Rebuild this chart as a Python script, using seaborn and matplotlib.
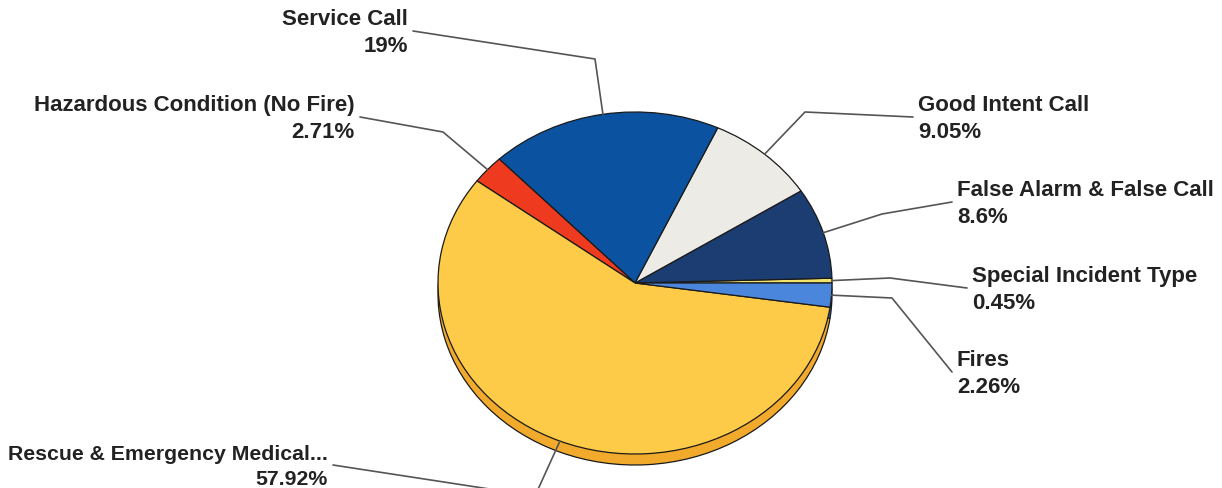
import numpy as np
import matplotlib
matplotlib.use('Agg')
import matplotlib.pyplot as plt
import seaborn as sns

# ----------------------------------------------------------------------------
# Data (counter-clockwise from 3 o'clock)
# ----------------------------------------------------------------------------
categories = ['Special Incident Type', 'False Alarm & False Call', 'Good Intent Call',
              'Service Call', 'Hazardous Condition (No Fire)',
              'Rescue & Emergency Medical...', 'Fires']
shares = [0.45, 8.6, 9.05, 19, 2.71, 57.92, 2.26]
pct_labels = ['0.45%', '8.6%', '9.05%', '19%', '2.71%', '57.92%', '2.26%']

top_colors = ['#f2e36a', '#1b3d72', '#ecebe6', '#0b52a0', '#ee3b1f', '#fecb48', '#4a86dc']
side_colors = ['#c9b840', '#122a55', '#c4c3bc', '#083d78', '#b92a14', '#f2aa2c', '#3466b0']

# ----------------------------------------------------------------------------
# Layout (pixel geometry of the picture)
# ----------------------------------------------------------------------------
W, H = 1222, 489
CX, CY, RX, RY = 635, 284, 197, 171
DEPTH = 11

# elbow point and label anchor for each leader line, in pixels
leader_layout = [
    [(890, 279), (967, 289)],
    [(882, 215), (952, 203)],
    [(805, 113), (913, 118)],
    [(595, 60), (413, 32)],
    [(443, 133), (360, 118)],
    [(535, 497), (333, 466)],
    [(892, 299), (952, 373)],
]
label_sizes = [16, 16, 16, 16, 16, 15.3, 16]


def to_data(px, py):
    return (px - CX) / RX, (CY - py) / RY


sns.set_theme(style='white')
plt.rcParams['font.family'] = ['Liberation Sans', 'DejaVu Sans']

fig = plt.figure(figsize=(W / 100, H / 100), dpi=100)
ax = fig.add_axes([0, 0, 1, 1])

# side (depth) of the 3-D pie: same pie shifted down, darker colours
ax.pie(shares, colors=side_colors, startangle=0, counterclock=True,
       center=(0, -DEPTH / RY), radius=1.0,
       wedgeprops=dict(edgecolor='#1a1a1a', linewidth=0.9, zorder=1))

# top face
wedges, _ = ax.pie(shares, colors=top_colors, startangle=0, counterclock=True,
                   center=(0, 0), radius=1.0,
                   wedgeprops=dict(edgecolor='#1a1a1a', linewidth=0.9, zorder=2))

for w in wedges:
    w.set_zorder(2)

# leader lines + labels
for w, name, pct, (elbow, end), fs in zip(wedges, categories, pct_labels,
                                           leader_layout, label_sizes):
    mid = np.deg2rad((w.theta1 + w.theta2) / 2)
    ax0, ay0 = np.cos(mid), np.sin(mid)
    ex, ey = to_data(*elbow)
    lx, ly = to_data(*end)
    ax.plot([ax0, ex, lx], [ay0, ey, ly], color='#555555', lw=1.2,
            zorder=3, solid_capstyle='round')
    right_side = end[0] > CX
    tx, ty = to_data(end[0] + (5 if right_side else -5), end[1] + 1)
    ax.text(tx, ty, f'{name}\n{pct}', ha='left' if right_side else 'right',
            va='center', multialignment='left' if right_side else 'right',
            fontsize=fs, fontweight='bold', color='#222222', linespacing=1.35,
            zorder=4)

ax.set_aspect('auto')
ax.set_xlim(-CX / RX, (W - CX) / RX)
ax.set_ylim((CY - H) / RY, CY / RY)
ax.axis('off')

fig.savefig('out.png', dpi=100, facecolor='white')
plt.close(fig)
